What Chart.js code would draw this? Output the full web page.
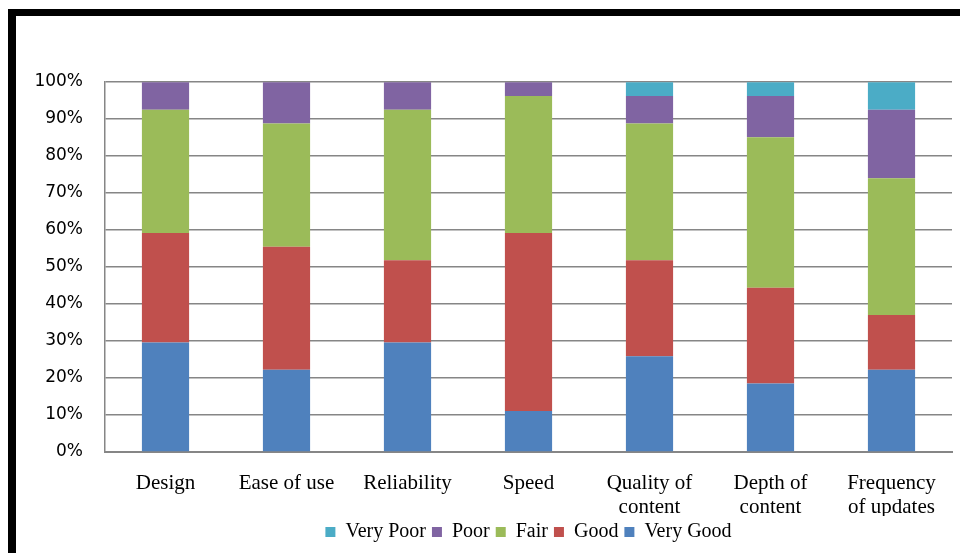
<!DOCTYPE html>
<html>
<head>
<meta charset="utf-8">
<script src="https://cdn.jsdelivr.net/npm/chart.js@4"></script>
<style>
  html, body { margin: 0; padding: 0; background: #fff; }
  #wrap { position: relative; width: 960px; height: 553px; overflow: hidden; }
  #frame { position: absolute; left: 8px; top: 9px; right: 0; bottom: 0;
           border-top: 7px solid #000; border-left: 8px solid #000; }
  canvas { position: absolute; left: 0; top: 0; }
</style>
</head>
<body>
<div id="wrap">
  <div id="frame"></div>
  <canvas id="stackChart" width="960" height="553"></canvas>
</div>
<script>
// categories and percentage shares (of respondents) per rating
const categories = ['Design', 'Ease of use', 'Reliability', 'Speed',
  ['Quality of', 'content'], ['Depth of', 'content'], ['Frequency', 'of updates']];
const veryGood = [29.6, 22.2, 29.6, 11.1, 25.9, 18.5, 22.2];
const good     = [29.6, 33.3, 22.2, 48.1, 25.9, 25.9, 14.8];
const fair     = [33.3, 33.3, 40.7, 37.0, 37.0, 40.7, 37.0];
const poor     = [7.4, 11.1, 7.4, 3.7, 7.4, 11.1, 18.5];
const veryPoor = [0, 0, 0, 0, 3.7, 3.7, 7.4];
const yTicks = [0, 10, 20, 30, 40, 50, 60, 70, 80, 90, 100];

const serif = 'Liberation Serif';
const gridColor = '#868686';

const ctx = document.getElementById('stackChart').getContext('2d');
new Chart(ctx, {
  type: 'bar',
  data: {
    labels: categories,
    datasets: [
      { label: 'Very Good', data: veryGood, backgroundColor: '#4F81BD' },
      { label: 'Good', data: good, backgroundColor: '#C0504D' },
      { label: 'Fair', data: fair, backgroundColor: '#9BBB59' },
      { label: 'Poor', data: poor, backgroundColor: '#8064A2' },
      { label: 'Very Poor', data: veryPoor, backgroundColor: '#4BACC6' },
    ],
  },
  options: {
    responsive: false,
    animation: false,
    layout: { padding: { top: 82, left: 16, right: 8, bottom: 1 } },
    datasets: { bar: { barPercentage: 0.39, categoryPercentage: 1 } },
    plugins: {
      tooltip: { enabled: false },
      legend: {
        position: 'bottom',
        reverse: true,
        fullSize: false,
        labels: {
          color: '#000',
          font: { family: serif, size: 20 },
          boxWidth: 10,
          boxHeight: 10,
          padding: 6,
        },
      },
    },
    scales: {
      x: {
        stacked: true,
        grid: { display: false, drawTicks: false },
        border: { display: true, color: gridColor, width: 2 },
        ticks: {
          color: '#000',
          font: { family: serif, size: 21, lineHeight: 1.15 },
          padding: 19,
          maxRotation: 0,
          autoSkip: false,
        },
        afterFit: (axis) => { axis.height = 64; },
      },
      y: {
        stacked: true,
        min: 0,
        max: 100,
        afterBuildTicks: (axis) => { axis.ticks = yTicks.map((v) => ({ value: v })); },
        grid: { color: gridColor, lineWidth: 1.5, drawTicks: false },
        border: { display: true, color: gridColor, width: 1.5 },
        ticks: {
          color: '#000',
          font: { family: 'DejaVu Sans', size: 17 },
          padding: 22,
          callback: (v) => v + '%',
        },
        afterFit: (axis) => { axis.width = 89; },
      },
    },
  },
});
</script>
</body>
</html>
